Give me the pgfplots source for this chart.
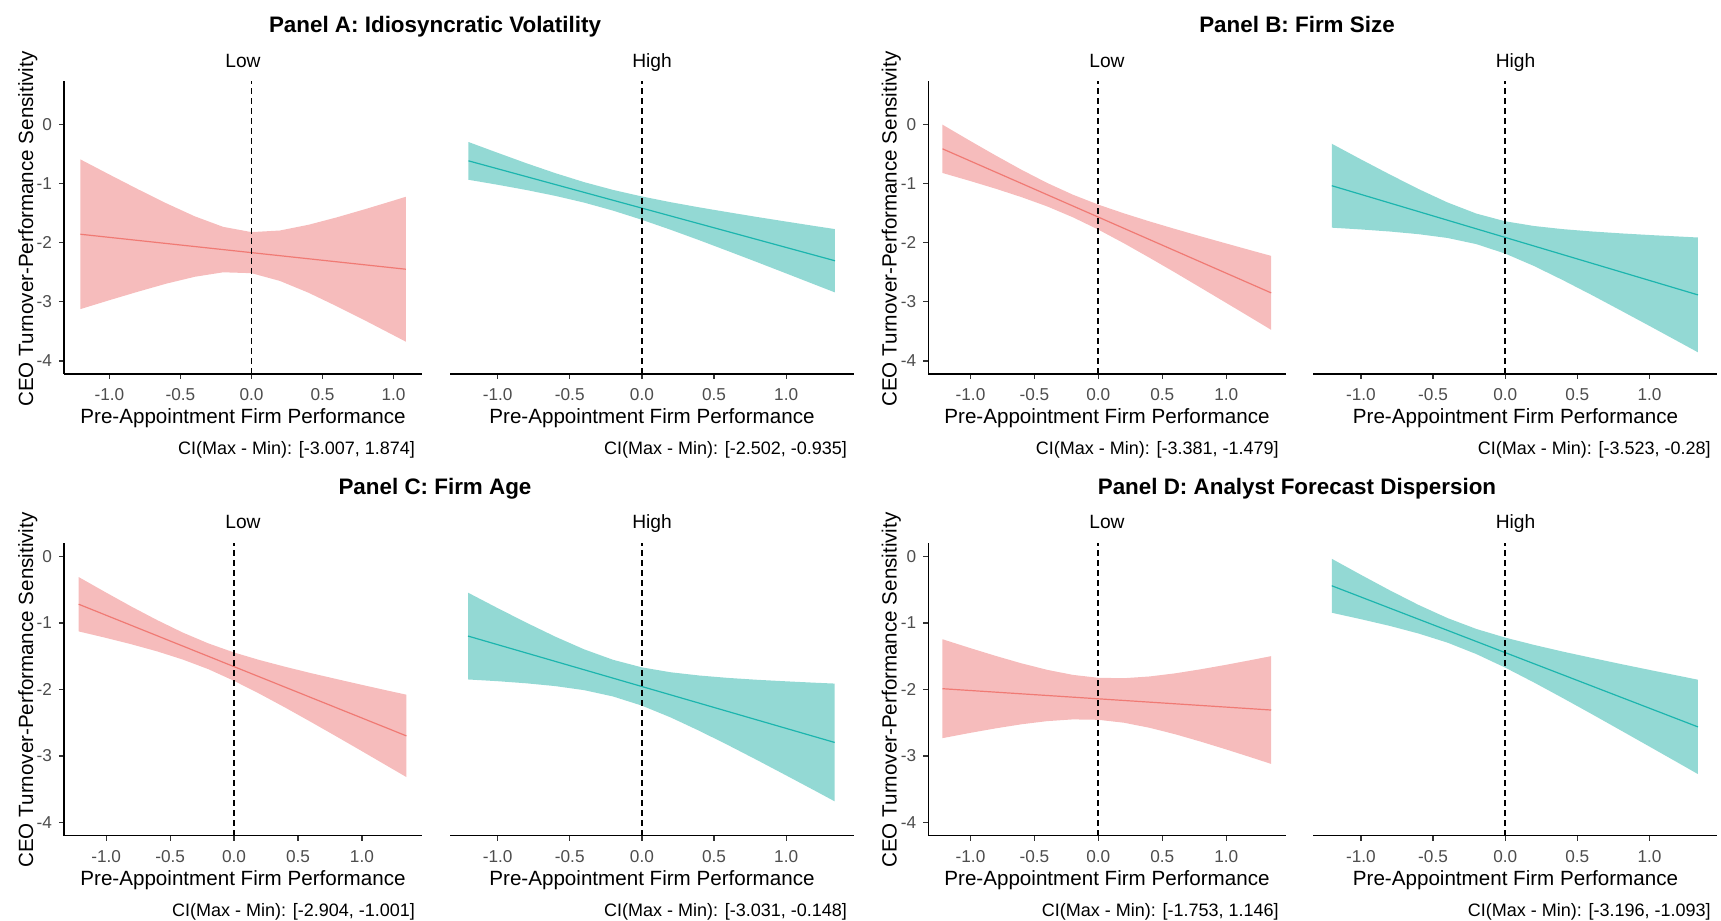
\documentclass[border=0pt]{standalone}
\usepackage{fontspec}
\setmainfont{Liberation Sans}
\usepackage{pgfplots}
\pgfplotsset{compat=1.18}

\definecolor{pinkfill}{HTML}{F6BCBC}
\definecolor{tealfill}{HTML}{93D9D4}
\definecolor{pinkline}{HTML}{F07A74}
\definecolor{tealline}{HTML}{1CB5AE}
\definecolor{gray30}{HTML}{4D4D4D}

\pgfplotsset{
  base/.style={
    scale only axis, anchor=south west,
    axis line style={-, line width=0.8pt, black},
    tick align=outside, major tick length=2.5pt,
    tick style={line width=0.6pt, color=black!80},
    xtick={-1,-0.5,0,0.5,1},
    xticklabels={-1.0,-0.5,0.0,0.5,1.0},
    ticklabel style={font=\fontsize{8.6}{10}\selectfont, text=gray30},
    xticklabel style={yshift=-1.2pt},
    xmin=-1.33, xmax=1.47,
  },
  low/.style={base, width=179pt,
    axis x line*=bottom, axis y line*=left,
    ytick={-4,-3,-2,-1,0}, yticklabels={-4,-3,-2,-1,0}},
  high/.style={base, width=202pt,
    axis x line*=bottom, axis y line=none, ytick=\empty},
  top/.style={height=146.5pt, ymin=-4.22, ymax=0.73},
  bot/.style={height=146.2pt, ymin=-4.2, ymax=0.2},
  vline/.style={black, line width=0.9pt, dash pattern=on 3pt off 2pt},
  bandL/.style={draw=none, fill=pinkfill},
  bandH/.style={draw=none, fill=tealfill},
  lineL/.style={pinkline, line width=0.6pt},
  lineH/.style={tealline, line width=0.6pt},
}

\newcommand{\ttl}[1]{\fontsize{11.2}{13}\selectfont\bfseries #1}
\newcommand{\lab}[1]{\fontsize{10.3}{12}\selectfont #1}
\newcommand{\strip}[1]{\fontsize{9.6}{11}\selectfont #1}
\newcommand{\ci}[1]{\fontsize{9}{11}\selectfont #1}

\begin{document}
\begin{tikzpicture}
\path[use as bounding box] (0,0) rectangle (860.5pt,460.5pt);

% ---------- Panel A ----------
\begin{axis}[low, top, at={(32pt,273.5pt)}, xmin=-1.32, xmax=1.2]
\addplot[bandL] coordinates {
(-1.205,-0.594) (-1.0,-0.851) (-0.8,-1.098) (-0.6,-1.336) (-0.4,-1.556) (-0.2,-1.734)
(0,-1.823) (0.2,-1.796) (0.4,-1.700) (0.6,-1.574) (0.8,-1.435) (1.0,-1.290) (1.086,-1.226)
(1.086,-3.674) (1.0,-3.566) (0.8,-3.317) (0.6,-3.076) (0.4,-2.846) (0.2,-2.648) (0,-2.517)
(-0.2,-2.502) (-0.4,-2.578) (-0.6,-2.694) (-0.8,-2.830) (-1.0,-2.973) (-1.205,-3.124)} -- cycle;
\addplot[lineL] coordinates {(-1.205,-1.859) (1.086,-2.450)};
\addplot[vline] coordinates {(0,-4.22) (0,0.73)};
\end{axis}

\begin{axis}[high, top, at={(225pt,273.5pt)}]
\addplot[bandH] coordinates {
(-1.202,-0.301) (-1.0,-0.483) (-0.8,-0.660) (-0.6,-0.827) (-0.4,-0.979) (-0.2,-1.110) (0,-1.221)
(0.2,-1.318) (0.4,-1.406) (0.6,-1.488) (0.8,-1.568) (1.0,-1.645) (1.2,-1.721) (1.338,-1.772)
(1.338,-2.842) (1.2,-2.711) (1.0,-2.521) (0.8,-2.332) (0.6,-2.146) (0.4,-1.962) (0.2,-1.784)
(0,-1.615) (-0.2,-1.460) (-0.4,-1.325) (-0.6,-1.211) (-0.8,-1.112) (-1.0,-1.023) (-1.202,-0.939)} -- cycle;
\addplot[lineH] coordinates {(-1.202,-0.619) (1.338,-2.307)};
\addplot[vline] coordinates {(0,-4.22) (0,0.73)};
\end{axis}

% ---------- Panel B ----------
\begin{axis}[low, top, at={(464.15pt,273.5pt)}]
\addplot[bandL] coordinates {
(-1.219,-0.008) (-1.0,-0.285) (-0.8,-0.532) (-0.6,-0.771) (-0.4,-0.993) (-0.2,-1.190) (0,-1.359)
(0.2,-1.506) (0.4,-1.642) (0.6,-1.770) (0.8,-1.894) (1.0,-2.015) (1.2,-2.135) (1.352,-2.225)
(1.352,-3.475) (1.2,-3.277) (1.0,-3.019) (0.8,-2.762) (0.6,-2.506) (0.4,-2.256) (0.2,-2.012)
(0,-1.781) (-0.2,-1.572) (-0.4,-1.389) (-0.6,-1.233) (-0.8,-1.092) (-1.0,-0.961) (-1.219,-0.824)} -- cycle;
\addplot[lineL] coordinates {(-1.219,-0.416) (1.352,-2.850)};
\addplot[vline] coordinates {(0,-4.22) (0,0.73)};
\end{axis}

\begin{axis}[high, top, at={(656.65pt,273.5pt)}]
\addplot[bandH] coordinates {
(-1.202,-0.330) (-1.0,-0.594) (-0.8,-0.849) (-0.6,-1.096) (-0.4,-1.322) (-0.2,-1.510) (0,-1.640)
(0.2,-1.720) (0.4,-1.773) (0.6,-1.812) (0.8,-1.844) (1.0,-1.872) (1.2,-1.897) (1.336,-1.914)
(1.336,-3.854) (1.2,-3.673) (1.0,-3.408) (0.8,-3.146) (0.6,-2.886) (0.4,-2.635) (0.2,-2.396)
(0,-2.186) (-0.2,-2.026) (-0.4,-1.922) (-0.6,-1.858) (-0.8,-1.813) (-1.0,-1.778) (-1.202,-1.748)} -- cycle;
\addplot[lineH] coordinates {(-1.202,-1.039) (1.336,-2.884)};
\addplot[vline] coordinates {(0,-4.22) (0,0.73)};
\end{axis}

% ---------- Panel C ----------
\begin{axis}[low, bot, at={(32pt,42.65pt)}]
\addplot[bandL] coordinates {
(-1.215,-0.308) (-1.0,-0.542) (-0.8,-0.755) (-0.6,-0.957) (-0.4,-1.144) (-0.2,-1.307) (0,-1.443)
(0.2,-1.557) (0.4,-1.658) (0.6,-1.753) (0.8,-1.842) (1.0,-1.930) (1.2,-2.016) (1.348,-2.078)
(1.348,-3.318) (1.2,-3.152) (1.0,-2.928) (0.8,-2.706) (0.6,-2.487) (0.4,-2.272) (0.2,-2.065)
(0,-1.870) (-0.2,-1.695) (-0.4,-1.550) (-0.6,-1.427) (-0.8,-1.321) (-1.0,-1.224) (-1.215,-1.126)} -- cycle;
\addplot[lineL] coordinates {(-1.215,-0.717) (1.348,-2.698)};
\addplot[vline] coordinates {(0,-4.2) (0,0.2)};
\end{axis}

\begin{axis}[high, bot, at={(225pt,42.65pt)}]
\addplot[bandH] coordinates {
(-1.205,-0.543) (-1.0,-0.775) (-0.8,-0.995) (-0.6,-1.205) (-0.4,-1.396) (-0.2,-1.553) (0,-1.667)
(0.2,-1.741) (0.4,-1.790) (0.6,-1.826) (0.8,-1.854) (1.0,-1.877) (1.2,-1.898) (1.336,-1.911)
(1.336,-3.683) (1.2,-3.524) (1.0,-3.293) (0.8,-3.064) (0.6,-2.840) (0.4,-2.624) (0.2,-2.421)
(0,-2.243) (-0.2,-2.105) (-0.4,-2.010) (-0.6,-1.949) (-0.8,-1.907) (-1.0,-1.875) (-1.205,-1.849)} -- cycle;
\addplot[lineH] coordinates {(-1.205,-1.196) (1.336,-2.797)};
\addplot[vline] coordinates {(0,-4.2) (0,0.2)};
\end{axis}

% ---------- Panel D ----------
\begin{axis}[low, bot, at={(464.15pt,42.65pt)}]
\addplot[bandL] coordinates {
(-1.219,-1.244) (-1.0,-1.378) (-0.8,-1.496) (-0.6,-1.607) (-0.4,-1.704) (-0.2,-1.780) (0,-1.824)
(0.2,-1.830) (0.4,-1.804) (0.6,-1.757) (0.8,-1.696) (1.0,-1.628) (1.2,-1.555) (1.352,-1.498)
(1.352,-3.120) (1.2,-3.025) (1.0,-2.902) (0.8,-2.784) (0.6,-2.673) (0.4,-2.576) (0.2,-2.500)
(0,-2.456) (-0.2,-2.450) (-0.4,-2.476) (-0.6,-2.523) (-0.8,-2.584) (-1.0,-2.652) (-1.219,-2.732)} -- cycle;
\addplot[lineL] coordinates {(-1.219,-1.988) (1.352,-2.309)};
\addplot[vline] coordinates {(0,-4.2) (0,0.2)};
\end{axis}

\begin{axis}[high, bot, at={(656.65pt,42.65pt)}]
\addplot[bandH] coordinates {
(-1.202,-0.033) (-1.0,-0.274) (-0.8,-0.507) (-0.6,-0.728) (-0.4,-0.925) (-0.2,-1.089) (0,-1.219)
(0.2,-1.329) (0.4,-1.430) (0.6,-1.524) (0.8,-1.616) (1.0,-1.705) (1.2,-1.793) (1.336,-1.853)
(1.336,-3.273) (1.2,-3.105) (1.0,-2.859) (0.8,-2.614) (0.6,-2.370) (0.4,-2.130) (0.2,-1.895)
(0,-1.671) (-0.2,-1.467) (-0.4,-1.295) (-0.6,-1.158) (-0.8,-1.043) (-1.0,-0.942) (-1.202,-0.845)} -- cycle;
\addplot[lineH] coordinates {(-1.202,-0.439) (1.336,-2.563)};
\addplot[vline] coordinates {(0,-4.2) (0,0.2)};
\end{axis}

% ---------- titles and labels ----------
\node[anchor=base] at (217.5pt,444.2pt) {\ttl{Panel A: Idiosyncratic Volatility}};
\node[anchor=base] at (648.5pt,444.2pt) {\ttl{Panel B: Firm Size}};
\node[anchor=base] at (217.5pt,213.3pt) {\ttl{Panel C: Firm Age}};
\node[anchor=base] at (648.5pt,213.3pt) {\ttl{Panel D: Analyst Forecast Dispersion}};

\foreach \xl/\xh in {121.5/326, 553.5/757.75} {
  \node[anchor=base] at (\xl pt,426.7pt) {\strip{Low}};
  \node[anchor=base] at (\xh pt,426.7pt) {\strip{High}};
  \node[anchor=base] at (\xl pt,196pt) {\strip{Low}};
  \node[anchor=base] at (\xh pt,196pt) {\strip{High}};
  \node[anchor=base] at (\xl pt,248.5pt) {\lab{Pre-Appointment Firm Performance}};
  \node[anchor=base] at (\xh pt,248.5pt) {\lab{Pre-Appointment Firm Performance}};
  \node[anchor=base] at (\xl pt,17.5pt) {\lab{Pre-Appointment Firm Performance}};
  \node[anchor=base] at (\xh pt,17.5pt) {\lab{Pre-Appointment Firm Performance}};
}
\foreach \xy/\yy in {16.5/346, 448.3/346, 16.5/115.5, 448.3/115.5} {
  \node[anchor=base, rotate=90] at (\xy pt,\yy pt) {\lab{CEO Turnover-Performance Sensitivity}};
}

\node[anchor=base east] at (211pt,233pt) {\ci{CI(Max - Min): [-3.007, 1.874]}};
\node[anchor=base east] at (427pt,233pt) {\ci{CI(Max - Min): [-2.502, -0.935]}};
\node[anchor=base east] at (642.85pt,233pt) {\ci{CI(Max - Min): [-3.381, -1.479]}};
\node[anchor=base east] at (858.85pt,233pt) {\ci{CI(Max - Min): [-3.523, -0.28]}};
\node[anchor=base east] at (211pt,2.2pt) {\ci{CI(Max - Min): [-2.904, -1.001]}};
\node[anchor=base east] at (427pt,2.2pt) {\ci{CI(Max - Min): [-3.031, -0.148]}};
\node[anchor=base east] at (642.85pt,2.2pt) {\ci{CI(Max - Min): [-1.753, 1.146]}};
\node[anchor=base east] at (858.85pt,2.2pt) {\ci{CI(Max - Min): [-3.196, -1.093]}};
\end{tikzpicture}
\end{document}
